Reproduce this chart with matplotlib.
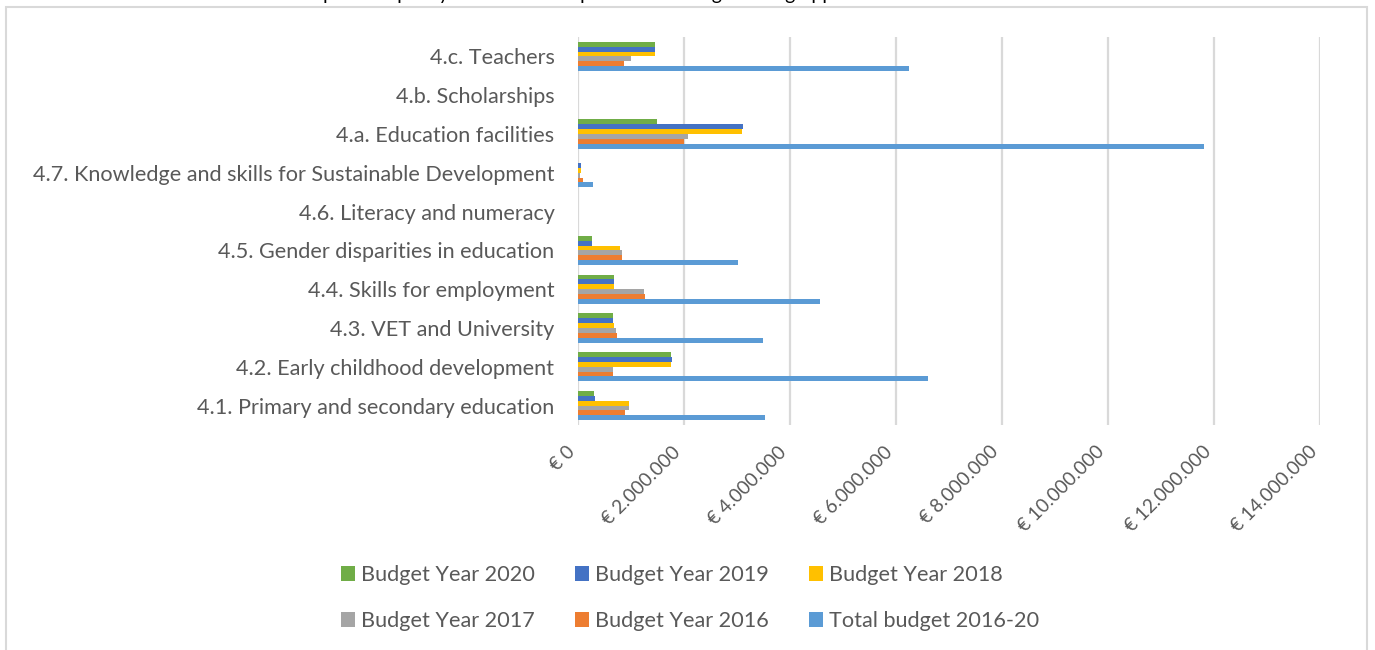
import matplotlib
matplotlib.use("Agg")
import matplotlib.pyplot as plt
import numpy as np
from matplotlib.patches import Rectangle, Patch
from matplotlib.ticker import FuncFormatter, MultipleLocator

categories = [
    "4.1. Primary and secondary education",
    "4.2. Early childhood development",
    "4.3. VET and University",
    "4.4. Skills for employment",
    "4.5. Gender disparities in education",
    "4.6. Literacy and numeracy",
    "4.7. Knowledge and skills for Sustainable Development",
    "4.a. Education facilities",
    "4.b. Scholarships",
    "4.c. Teachers",
]
total_2016_20 = [3530000, 6600000, 3490000, 4560000, 3020000, 0, 290000, 11820000, 0, 6250000]
budget_2016 = [890000, 660000, 730000, 1260000, 830000, 0, 90000, 2000000, 0, 860000]
budget_2017 = [960000, 660000, 710000, 1240000, 830000, 0, 30000, 2080000, 0, 1000000]
budget_2018 = [970000, 1750000, 680000, 680000, 790000, 0, 57000, 3090000, 0, 1450000]
budget_2019 = [330000, 1780000, 660000, 670000, 260000, 0, 64000, 3120000, 0, 1450000]
budget_2020 = [310000, 1760000, 660000, 670000, 260000, 0, 0, 1490000, 0, 1450000]

series_names = ["Budget Year 2020", "Budget Year 2019", "Budget Year 2018",
                "Budget Year 2017", "Budget Year 2016", "Total budget 2016-20"]
series_values = [budget_2020, budget_2019, budget_2018, budget_2017, budget_2016, total_2016_20]
series_colors = ["#70AD47", "#4472C4", "#FFC000", "#A5A5A5", "#ED7D31", "#5B9BD5"]

plt.rcParams["font.family"] = ["Lato", "DejaVu Sans"]
TXT = "#595959"
FS = 15.6

W, H = 1375, 650
fig = plt.figure(figsize=(W / 100, H / 100), dpi=100)
fig.patch.set_facecolor("white")

ax = fig.add_axes([578 / W, 1 - 425 / H, (1320 - 578) / W, (425 - 37) / H])

y = np.arange(len(categories))
bh = 0.125
n = len(series_names)
for k, (name, vals, col) in enumerate(zip(series_names, series_values, series_colors)):
    off = (n - 1) / 2 * bh - k * bh
    ax.barh(y + off, vals, height=bh, color=col, label=name, zorder=3)

ax.set_xlim(0, 14000000)
ax.set_ylim(-0.5, len(categories) - 0.5)
ax.xaxis.set_major_locator(MultipleLocator(2000000))
ax.xaxis.set_major_formatter(FuncFormatter(lambda v, p: "€ " + f"{int(round(v)):,}".replace(",", ".")))
ax.set_yticks(y)
ax.set_yticklabels(categories)
ax.grid(axis="x", color="#D9D9D9", linewidth=1.6, zorder=0)
ax.set_axisbelow(True)
for s in ax.spines.values():
    s.set_visible(False)
ax.tick_params(axis="y", length=0, pad=17, labelsize=FS, labelcolor=TXT)
ax.tick_params(axis="x", length=0, pad=13, labelsize=13.7, labelcolor=TXT)
for lab in ax.get_xticklabels():
    lab.set_rotation(45)
    lab.set_ha("right")
    lab.set_va("top")

order = [0, 3, 1, 4, 2, 5]
handles = [Patch(facecolor=series_colors[i], edgecolor="none") for i in order]
labels = [series_names[i] for i in order]
leg = fig.legend(handles, labels, ncol=3, loc="center", bbox_to_anchor=(690 / W, 1 - 598 / H),
                 frameon=False, fontsize=FS, handlelength=0.65, handleheight=0.65,
                 handletextpad=0.28, columnspacing=1.85, labelspacing=1.2)
for t in leg.get_texts():
    t.set_color(TXT)

fig.add_artist(Rectangle((6 / W, -0.05), (1367 - 6) / W, 1.05 - 7 / H, transform=fig.transFigure,
                         fill=False, edgecolor="#D9D9D9", linewidth=1.5))

fig.text(7 / W, 1.0, "Chart 4:", color="#5B9BD5", fontsize=14, va="baseline", ha="left")
fig.text(127 / W, 1.0,
         "Ensure inclusive and equitable quality education and promote lifelong learning opportunities for all",
         color="black", fontsize=14, va="baseline", ha="left")

fig.savefig("out.png", dpi=100)
